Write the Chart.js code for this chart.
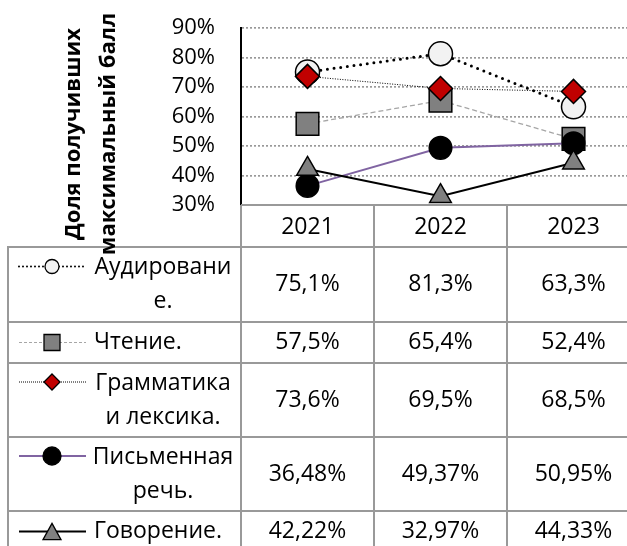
<!DOCTYPE html>
<html><head><meta charset="utf-8">
<script src="https://cdn.jsdelivr.net/npm/chart.js@4"></script>
<style>html,body{margin:0;padding:0;overflow:hidden;background:#fff}#wrap{width:640px;height:546px}</style>
</head><body><div id="wrap"><canvas id="c" width="640" height="546"></canvas></div>
<script>
const categories = ['2021', '2022', '2023'];
const seriesNames = [['Аудировани', 'е.'], ['Чтение.'], ['Грамматика', 'и лексика.'], ['Письменная', 'речь.'], ['Говорение.']];
const audirovanie = [75.1, 81.3, 63.3];
const chtenie = [57.5, 65.4, 52.4];
const grammatika = [73.6, 69.5, 68.5];
const pismennaya = [36.48, 49.37, 50.95];
const govorenie = [42.22, 32.97, 44.33];
const decimals = [1, 1, 1, 2, 2];
const yTicks = [30, 40, 50, 60, 70, 80, 90];
const yTitle = ['Доля получивших', 'максимальный балл'];

const FONT = '"Open Sans", "Liberation Sans", sans-serif';
const seriesData = [audirovanie, chtenie, grammatika, pismennaya, govorenie];

const styles = [
  {line: '#000', lw: 3, dash: [0, 6.7], cap: 'round', ps: 'circle', r: 12, bg: '#f2f2f2',
   leg: {lw: 2, dash: [0, 4], cap: 'round'}},
  {line: '#a6a6a6', lw: 1.3, dash: [5, 3], cap: 'butt', ps: 'rect', r: 16, bg: '#808080',
   leg: {lw: 1, dash: [3, 2], cap: 'butt'}},
  {line: '#000', lw: 1, dash: [1, 1.5], cap: 'butt', ps: 'rectRot', r: 12, bg: '#c00000',
   leg: {lw: 1, dash: [1, 1], cap: 'butt'}},
  {line: '#8064a2', lw: 2, dash: [], cap: 'butt', ps: 'circle', r: 11.3, bg: '#000',
   leg: {lw: 2, dash: [], cap: 'butt'}},
  {line: '#000', lw: 2, dash: [], cap: 'butt', ps: 'triangle', r: 12.5, bg: '#808080',
   leg: {lw: 2, dash: [], cap: 'butt'}}
];

const datasets = seriesData.map((d, i) => ({
  label: seriesNames[i].join(''),
  data: d,
  borderColor: styles[i].line,
  borderWidth: styles[i].lw,
  borderDash: styles[i].dash,
  borderCapStyle: styles[i].cap,
  pointStyle: styles[i].ps,
  pointRadius: styles[i].r,
  pointBackgroundColor: styles[i].bg,
  pointBorderColor: '#000',
  pointBorderWidth: 1.5,
  tension: 0,
  fill: false,
  clip: false,
  order: 5 - i
}));

const GRID = '#999';
const headerH = 42;
const rowHeights = [75, 41, 74, 74, 41];
const tableLeft = 8;

function fmt(v, d) { return v.toFixed(d).replace('.', ',') + '%'; }

function drawMarker(ctx, type, x, y, size, bg) {
  ctx.save();
  ctx.fillStyle = bg; ctx.strokeStyle = '#000'; ctx.lineWidth = 1.3; ctx.setLineDash([]);
  ctx.beginPath();
  const h = size / 2;
  if (type === 'circle') { ctx.arc(x, y, h, 0, Math.PI * 2); }
  else if (type === 'rect') { ctx.rect(x - h, y - h, size, size); }
  else if (type === 'rectRot') { ctx.moveTo(x, y - h); ctx.lineTo(x + h, y); ctx.lineTo(x, y + h); ctx.lineTo(x - h, y); ctx.closePath(); }
  else if (type === 'triangle') { ctx.moveTo(x, y - h * 0.9); ctx.lineTo(x + h, y + h * 0.9); ctx.lineTo(x - h, y + h * 0.9); ctx.closePath(); }
  ctx.fill(); ctx.stroke();
  ctx.restore();
}
const legendSizes = [14, 16, 16, 18, 18];

const tablePlugin = {
  id: 'dataTable',
  beforeDatasetsDraw(chart) {
    const ctx = chart.ctx, ca = chart.chartArea, xs = chart.scales.x;
    const colW = xs.width / categories.length;
    ctx.save();
    ctx.strokeStyle = GRID; ctx.lineWidth = 2; ctx.setLineDash([]);
    const H = chart.height;
    ctx.beginPath(); ctx.moveTo(ca.left, ca.bottom); ctx.lineTo(chart.width, ca.bottom); ctx.stroke();
    for (let i = 0; i < categories.length; i++) {
      const x = ca.left + i * colW;
      ctx.beginPath(); ctx.moveTo(x, ca.bottom); ctx.lineTo(x, H + 10); ctx.stroke();
    }
    let y = ca.bottom + headerH;
    ctx.beginPath(); ctx.moveTo(tableLeft, y); ctx.lineTo(tableLeft, H + 10); ctx.stroke();
    for (let r = 0; r < rowHeights.length; r++) {
      ctx.beginPath(); ctx.moveTo(tableLeft - 1, y); ctx.lineTo(chart.width, y); ctx.stroke();
      y += rowHeights[r];
    }
    ctx.restore();
  },
  afterDraw(chart) {
    const ctx = chart.ctx, ca = chart.chartArea, xs = chart.scales.x;
    ctx.save();
    ctx.fillStyle = '#000';
    ctx.textBaseline = 'middle';
    ctx.font = '23px ' + FONT;
    ctx.textAlign = 'center';
    categories.forEach((c, i) => ctx.fillText(c, xs.getPixelForValue(i), ca.bottom + headerH / 2 + 1));
    let top = ca.bottom + headerH;
    for (let r = 0; r < seriesData.length; r++) {
      const h = rowHeights[r];
      const cy = top + h / 2;
      ctx.font = '23px ' + FONT;
      ctx.textAlign = 'center';
      seriesData[r].forEach((v, i) => ctx.fillText(fmt(v, decimals[r]), xs.getPixelForValue(i), cy));
      const lines = seriesNames[r];
      let symY;
      if (lines.length > 1) {
        ctx.textAlign = 'center';
        ctx.fillText(lines[0], 163, cy - 17);
        ctx.fillText(lines[1], 163, cy + 17);
        symY = cy - 18;
      } else {
        ctx.textAlign = 'left';
        ctx.fillText(lines[0], 94, cy);
        symY = cy;
      }
      const st = styles[r];
      ctx.save();
      ctx.strokeStyle = st.line; ctx.lineWidth = st.leg.lw; ctx.setLineDash(st.leg.dash); ctx.lineCap = st.leg.cap;
      ctx.beginPath(); ctx.moveTo(19, symY); ctx.lineTo(86, symY); ctx.stroke();
      ctx.restore();
      drawMarker(ctx, st.ps, 52, symY, legendSizes[r], st.bg);
      top += h;
    }
    ctx.font = 'bold 22px ' + FONT;
    ctx.textAlign = 'center';
    const titleX = [74, 109];
    yTitle.forEach((t, i) => {
      ctx.save();
      ctx.translate(titleX[i], 134);
      ctx.rotate(-Math.PI / 2);
      ctx.fillText(t, 0, 0);
      ctx.restore();
    });
    ctx.restore();
  }
};

new Chart(document.getElementById('c'), {
  type: 'line',
  data: {labels: categories, datasets},
  options: {
    responsive: false,
    animation: false,
    devicePixelRatio: 1,
    layout: {autoPadding: false, padding: {top: 28, bottom: 341, left: 0, right: 0}},
    plugins: {legend: {display: false}, tooltip: {enabled: false}},
    scales: {
      x: {type: 'category', display: false, offset: true},
      y: {
        min: 30, max: 90,
        afterFit(s) { s.width = 241; s.paddingTop = 0; s.paddingBottom = 0; },
        afterBuildTicks(s) { s.ticks = yTicks.map(v => ({value: v})); },
        ticks: {padding: 26, color: '#000', font: {family: FONT, size: 22}, callback: v => v + '%'},
        grid: {color: c => (c.tick && c.tick.value === 30) ? 'rgba(0,0,0,0)' : GRID, lineWidth: 1.7, drawTicks: false},
        border: {display: true, color: '#000', width: 2, dash: [2, 2]}
      }
    }
  },
  plugins: [tablePlugin]
});
</script></body></html>
